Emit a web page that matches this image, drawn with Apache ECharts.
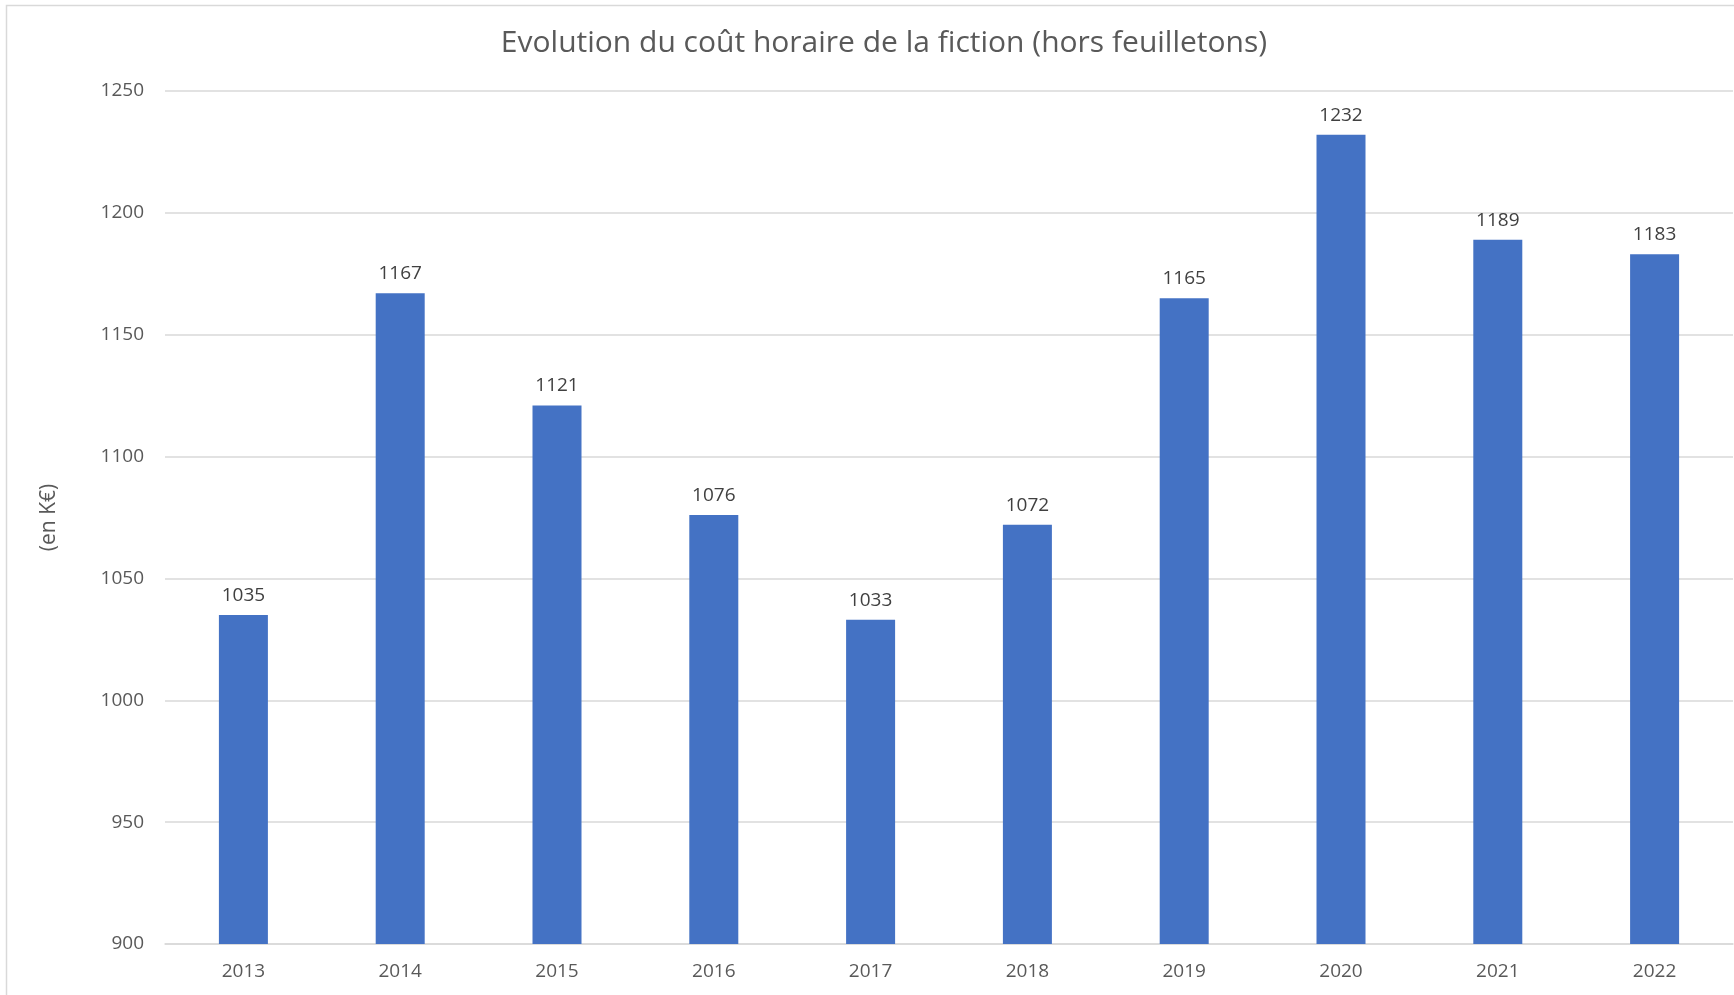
<!DOCTYPE html>
<html>
<head>
  <meta charset="utf-8">
  <title>Evolution du coût horaire de la fiction</title>
  <script src="https://cdn.jsdelivr.net/npm/echarts@6/dist/echarts.min.js"></script>
  <style>
    html, body { margin: 0; padding: 0; background: #fff; }
  </style>
</head>
<body>
  <div id="main" style="width: 1734px;height:995px;"></div>
  <script type="text/javascript">
    // données
    var annees = ['2013', '2014', '2015', '2016', '2017', '2018', '2019', '2020', '2021', '2022']
    var coutHoraire = [1035, 1167, 1121, 1076, 1033, 1072, 1165, 1232, 1189, 1183]
    var titre = 'Evolution du coût horaire de la fiction (hors feuilletons)'
    var uniteY = '(en K€)'

    var police = '"Open Sans", "Noto Sans", sans-serif'
    var myChart = echarts.init(document.getElementById('main'))

    myChart.setOption({
      backgroundColor: '#ffffff',
      textStyle: { fontFamily: police },
      // cadre gris autour du graphique
      graphic: [{
        type: 'rect',
        shape: { x: 6.5, y: 5.5, width: 1760, height: 1010 },
        style: { fill: 'none', stroke: '#d9d9d9', lineWidth: 1.5 },
        silent: true
      }],
      title: {
        text: titre,
        left: 879,
        textAlign: 'center',
        top: 23,
        textStyle: {
          fontFamily: police,
          fontSize: 30,
          fontWeight: 'normal',
          color: '#595959'
        }
      },
      grid: {
        left: 165,
        right: 1,
        top: 91,
        bottom: 51,
        containLabel: false
      },
      xAxis: {
        type: 'category',
        data: annees,
        axisLine: { lineStyle: { color: '#d9d9d9', width: 1.5 } },
        axisTick: { show: false },
        axisLabel: {
          color: '#595959',
          fontSize: 19,
          margin: 18
        }
      },
      yAxis: {
        type: 'value',
        min: 900,
        max: 1250,
        interval: 50,
        name: uniteY,
        nameLocation: 'middle',
        nameRotate: 90,
        nameGap: 105,
        nameTextStyle: { color: '#595959', fontSize: 21 },
        axisLine: { show: false },
        axisTick: { show: false },
        axisLabel: {
          color: '#595959',
          fontSize: 19,
          margin: 21,
          formatter: function (v) { return String(v) }
        },
        splitLine: { lineStyle: { color: '#d9d9d9', width: 1.5 } }
      },
      series: [{
        type: 'bar',
        data: coutHoraire,
        barWidth: 49,
        itemStyle: { color: '#4472c4' },
        label: {
          show: true,
          position: 'top',
          distance: 10,
          color: '#404040',
          fontSize: 19
        }
      }]
    })
  </script>
</body>
</html>
